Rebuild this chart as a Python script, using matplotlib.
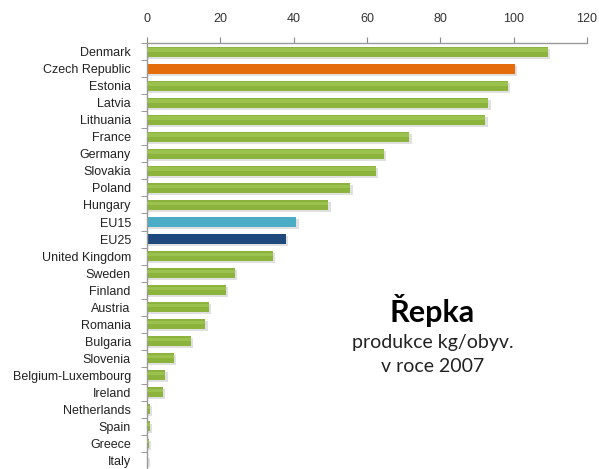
import matplotlib.pyplot as plt
import numpy as np

# data (kg per inhabitant, 2007)
countries = ['Denmark', 'Czech Republic', 'Estonia', 'Latvia', 'Lithuania', 'France',
             'Germany', 'Slovakia', 'Poland', 'Hungary', 'EU15', 'EU25',
             'United Kingdom', 'Sweden', 'Finland', 'Austria', 'Romania', 'Bulgaria',
             'Slovenia', 'Belgium-Luxembourg', 'Ireland', 'Netherlands', 'Spain',
             'Greece', 'Italy']
values = [109.3, 100.4, 98.5, 93.1, 92.3, 71.6,
          64.7, 62.4, 55.5, 49.5, 40.8, 37.9,
          34.3, 24.0, 21.5, 16.9, 16.0, 12.0,
          7.3, 5.1, 4.4, 0.8, 0.8, 0.5, 0.2]
x_ticks = [0, 20, 40, 60, 80, 100, 120]

GREEN = '#8cb43c'
special = {'Czech Republic': '#e46c0a', 'EU15': '#4bacc6', 'EU25': '#1f497d'}
colors = [special.get(c, GREEN) for c in countries]

fig = plt.figure(figsize=(5.99, 4.69), dpi=100, facecolor='white')
ax = fig.add_axes([0.245, 0.0, 0.735, 0.908])

y = np.arange(len(countries))
# soft drop shadow under each bar
ax.barh(y + 0.12, np.array(values) + 0.4, height=0.58, color='#bbbbbb', alpha=0.45,
        left=0.2, zorder=1)
ax.barh(y, values, height=0.58, color=colors, zorder=2)
# lighter top half to hint at the gradient
for yi, v, c in zip(y, values, colors):
    if c == GREEN:
        ax.barh(yi - 0.1, v, height=0.2, color='#a2c858', alpha=0.7, zorder=3)

ax.set_xlim(0, 120)
ax.set_ylim(len(countries) - 0.5, -0.5)

ax.xaxis.tick_top()
ax.set_xticks(x_ticks)
ax.set_xticklabels([str(t) for t in x_ticks], fontsize=9, color='#333333',
                   family='Liberation Sans')
ax.tick_params(axis='x', direction='out', length=4, color='#888888', pad=9)

ax.set_yticks(y)
ax.set_yticklabels(countries, fontsize=9, color='#222222', family='Liberation Sans')
ax.set_yticks(np.arange(len(countries) + 1) - 0.5, minor=True)
ax.tick_params(axis='y', which='major', length=0, pad=11.5)
ax.tick_params(axis='y', which='minor', direction='out', length=4, color='#888888')

for s in ['right', 'bottom']:
    ax.spines[s].set_visible(False)
for s in ['top', 'left']:
    ax.spines[s].set_color('#999999')
    ax.spines[s].set_linewidth(1.0)

fig.text(0.722, 0.313, 'Řepka', fontsize=22, fontweight='bold', ha='center',
         va='baseline', family='Lato', color='black')
fig.text(0.723, 0.258, 'produkce kg/obyv.', fontsize=14, ha='center', va='baseline',
         family='Lato', color='#222222')
fig.text(0.723, 0.207, 'v roce 2007', fontsize=14, ha='center', va='baseline',
         family='Lato', color='#222222')

fig.savefig('out.png', dpi=100, facecolor='white')
